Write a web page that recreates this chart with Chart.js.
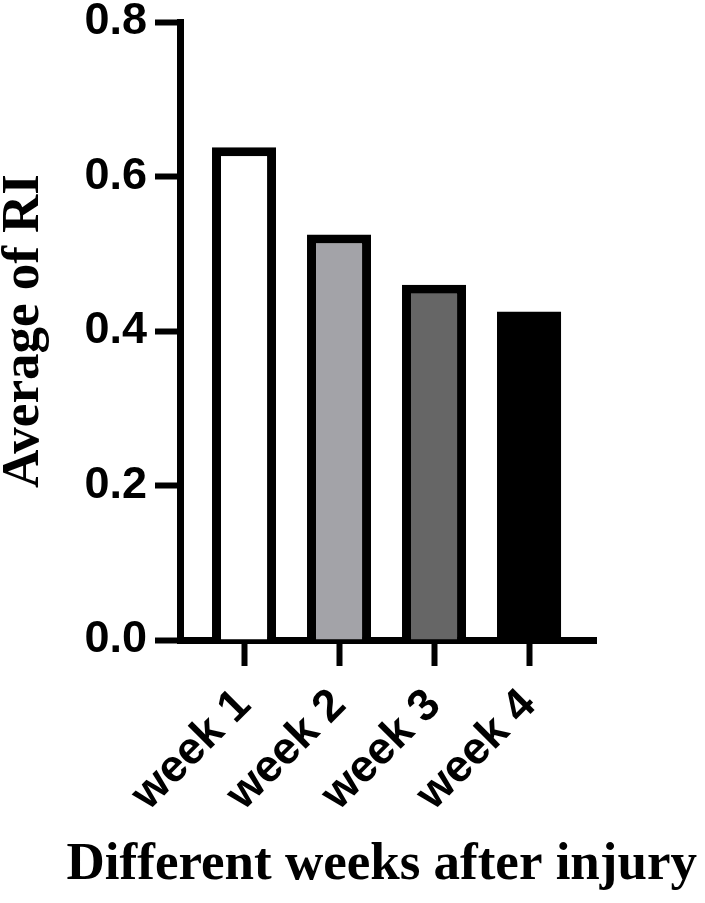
<!DOCTYPE html>
<html>
<head>
<meta charset="utf-8">
<script src="https://cdn.jsdelivr.net/npm/chart.js@4"></script>
<style>
  html, body { margin: 0; padding: 0; background: #fff; }
  #wrap { width: 705px; height: 903px; }
</style>
</head>
<body>
<div id="wrap"><canvas id="ri-bar"></canvas></div>
<script>
// values
const weeks = ["week 1", "week 2", "week 3", "week 4"];
const avgRI = [0.638, 0.525, 0.46, 0.425];
const barColors = ["#ffffff", "#a3a3a8", "#666666", "#000000"];
const yTicks = [0, 0.2, 0.4, 0.6, 0.8];

const tickFont = { family: "'Liberation Sans', Arial, sans-serif", weight: "bold", size: 45 };
const serif = "'Liberation Serif', 'Times New Roman', serif";

var ctx = document.getElementById("ri-bar").getContext("2d");

const RIdata = {
  datasets: [
    {
      label: "Average of RI",
      data: avgRI.map((v, i) => ({ x: i + 1, y: v })),
      backgroundColor: barColors,
      borderColor: "#000",
      // the black bar needs no outline (avoids a grey seam)
      borderWidth: [9, 9, 9, 0],
      barPercentage: 0.674,
      categoryPercentage: 1,
    },
  ],
};

const RIoptions = {
  responsive: true,
  maintainAspectRatio: false,
  animation: false,
  devicePixelRatio: 1,
  layout: {
    padding: { top: 0, right: 8, bottom: 0, left: 0 },
  },
  plugins: {
    legend: { display: false },
    tooltip: { enabled: false },
    // x axis title drawn by the title plugin so it isn't squeezed to the plot width
    title: {
      display: true,
      position: "bottom",
      align: "end",
      text: "Different weeks after injury",
      color: "#000",
      font: { family: serif, weight: "bold", size: 53, lineHeight: 1 },
      padding: { top: 0, bottom: 11 },
    },
  },
  scales: {
    x: {
      type: "linear",
      offset: false,
      min: 0.326,
      max: 4.705,
      afterBuildTicks: function (scale) {
        scale.ticks = weeks.map((w, i) => ({ value: i + 1 }));
      },
      afterFit: function (scale) {
        scale.height = 199;
        scale.paddingLeft = 0;
        scale.paddingRight = 109;
      },
      grid: {
        offset: false,
        drawOnChartArea: false,
        drawTicks: true,
        tickLength: 26,
        tickWidth: 6,
        tickColor: "#000",
      },
      border: { display: true, color: "#000", width: 7 },
      ticks: {
        autoSkip: false,
        minRotation: 45,
        maxRotation: 45,
        padding: 13,
        color: "#000",
        font: tickFont,
        callback: function (value) {
          return weeks[value - 1];
        },
      },
    },
    y: {
      min: 0,
      max: 0.8,
      afterBuildTicks: function (scale) {
        scale.ticks = yTicks.map((v) => ({ value: v }));
      },
      afterFit: function (scale) {
        scale.width = 180;
        scale.paddingTop = 22;
        scale.paddingBottom = 0;
      },
      grid: {
        drawOnChartArea: false,
        drawTicks: true,
        tickLength: 25,
        tickWidth: 6,
        tickColor: "#000",
      },
      border: { display: true, color: "#000", width: 7 },
      ticks: {
        padding: 8,
        color: "#000",
        font: tickFont,
        callback: function (value) {
          return value.toFixed(1);
        },
      },
      title: {
        display: true,
        text: "Average of RI",
        color: "#000",
        font: { family: serif, weight: "bold", size: 53, lineHeight: 0.9 },
        padding: { top: 0, bottom: 0 },
      },
    },
  },
};

var chartBar = new Chart(ctx, {
  type: "bar",
  data: RIdata,
  options: RIoptions,
});
</script>
</body>
</html>
